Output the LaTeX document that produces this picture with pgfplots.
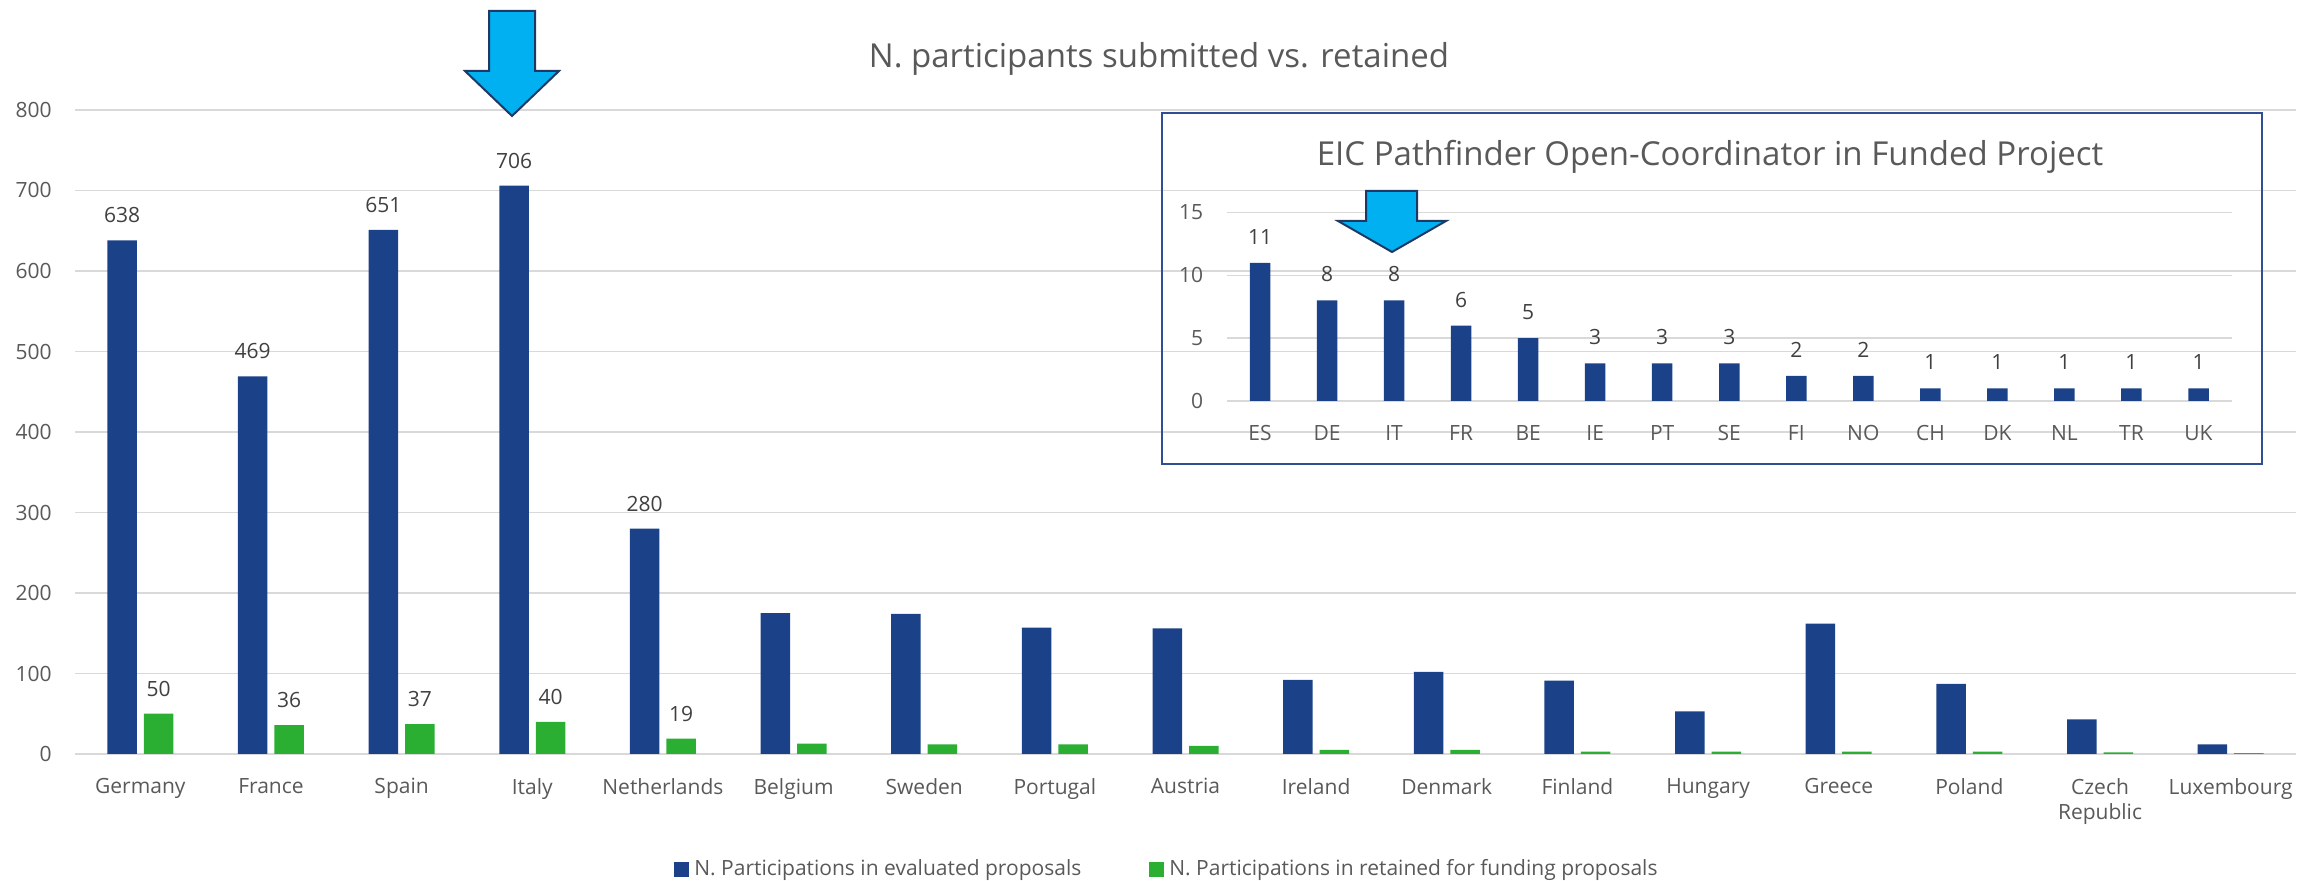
\documentclass[border=0pt]{standalone}
\usepackage{fontspec}
\setmainfont{Open Sans}
\usepackage{pgfplots}
\pgfplotsset{compat=1.18}
\definecolor{barblue}{HTML}{1B4289}
\definecolor{bargreen}{HTML}{2AAF33}
\definecolor{txt}{HTML}{595959}
\definecolor{lbl}{HTML}{404040}
\definecolor{gridc}{HTML}{D9D9D9}
\definecolor{arrowfill}{HTML}{00B0F0}
\definecolor{arrowline}{HTML}{1F3864}
\definecolor{boxc}{HTML}{2F4E96}
\pgfplotsset{
  /pgf/number format/assume math mode=true,
  mystyle/.style={
    scale only axis,
    anchor=south west,
    ymajorgrids,
    grid style={gridc, line width=0.75pt},
    major tick length=0pt,
    axis x line*=bottom, axis y line*=left,
    y axis line style={draw=none},
    x axis line style={draw=gridc, line width=0.75pt},
    tick label style={font=\fontsize{10.5}{12.5}\selectfont, text=txt},
    yticklabel style={anchor=east, inner sep=0pt, xshift=-11.5pt},
    xticklabel style={anchor=north, inner sep=0pt, align=center, yshift=-12pt},
    clip=false,
  },
  lbls/.style 2 args={
    nodes near coords, point meta=y,
    nodes near coords style={font=\fontsize{10.5}{12.5}\selectfont, text=lbl, anchor=center, inner sep=0pt, yshift=#1, xshift=#2},
  },
}
\begin{document}
\begin{tikzpicture}[x=1pt,y=1pt]
\path[use as bounding box] (0,0) rectangle (1159,440.5);

\begin{axis}[mystyle,
  at={(37.5pt,63.5pt)},
  width=1110.5pt, height=322pt,
  xmin=-0.5, xmax=16.5, ymin=0, ymax=800,
  ytick={0,100,...,800},
  xtick={0,...,16},
  xticklabels={Germany,France,Spain,Italy,Netherlands,Belgium,Sweden,Portugal,Austria,Ireland,Denmark,Finland,Hungary,Greece,Poland,{Czech\\Republic},Luxembourg},
  legend columns=2,
  legend style={at={(0.4912,-0.1786)}, anchor=center, draw=none, fill=none,
    font=\fontsize{10.5}{12.5}\selectfont, text=txt,
    nodes={inner sep=0pt},
    /tikz/every odd column/.append style={column sep=2.5pt},
    /tikz/every even column/.append style={column sep=34pt}},
  legend image code/.code={\fill[#1] (0pt,-3.75pt) rectangle (7.5pt,3.75pt);},
]
\addplot[ybar, bar width=14.75pt, bar shift=-9.125pt, fill=barblue, draw=none, lbls={12.5pt}{-9.125pt}]
  coordinates {(0,638) (1,469) (2,651) (3,706) (4,280)};
\addlegendentry{N. Participations in evaluated proposals}
\addplot[ybar, bar width=14.75pt, bar shift=9.125pt, fill=bargreen, draw=none, lbls={12.5pt}{9.125pt}]
  coordinates {(0,50) (1,36) (2,37) (3,40) (4,19)};
\addlegendentry{N. Participations in retained for funding proposals}
\addplot[ybar, bar width=14.75pt, bar shift=-9.125pt, fill=barblue, draw=none, forget plot]
  coordinates {(5,175) (6,174) (7,157) (8,156) (9,92) (10,102) (11,91) (12,53) (13,162) (14,87) (15,43) (16,12)};
\addplot[ybar, bar width=14.75pt, bar shift=9.125pt, fill=bargreen, draw=none, forget plot]
  coordinates {(5,13) (6,12) (7,12) (8,10) (9,5) (10,5) (11,3) (12,3) (13,3) (14,3) (15,2) (16,1)};
\end{axis}

\begin{axis}[mystyle,
  at={(613.25pt,240pt)},
  width=502.75pt, height=94.25pt,
  xmin=-0.5, xmax=14.5, ymin=0, ymax=15,
  ytick={0,5,10,15},
  xtick={0,...,14},
  xticklabels={ES,DE,IT,FR,BE,IE,PT,SE,FI,NO,CH,DK,NL,TR,UK},
]
\addplot[ybar, bar width=10.25pt, bar shift=0pt, fill=barblue, draw=none, lbls={13pt}{0pt}]
  coordinates {(0,11) (1,8) (2,8) (3,6) (4,5) (5,3) (6,3) (7,3) (8,2) (9,2) (10,1) (11,1) (12,1) (13,1) (14,1)};
\end{axis}

\draw[boxc, line width=0.9pt] (581,208.5) rectangle (1131,384);

\node[font=\fontsize{16.5}{20}\selectfont, text=txt] at (579.5,411) {N. participants submitted vs. retained};
\node[font=\fontsize{16.5}{20}\selectfont, text=txt] at (855,362) {EIC Pathfinder Open-Coordinator in Funded Project};

\filldraw[fill=arrowfill, draw=arrowline, line width=1pt, line join=miter]
  (244.5,435) -- (267.5,435) -- (267.5,405) -- (279.5,405) -- (256,382.5) -- (232.5,405) -- (244.5,405) -- cycle;
\filldraw[fill=arrowfill, draw=arrowline, line width=1pt, line join=miter]
  (683,345) -- (708.5,345) -- (708.5,330) -- (723,330) -- (696,314.5) -- (669,330) -- (683,330) -- cycle;
\end{tikzpicture}
\end{document}
